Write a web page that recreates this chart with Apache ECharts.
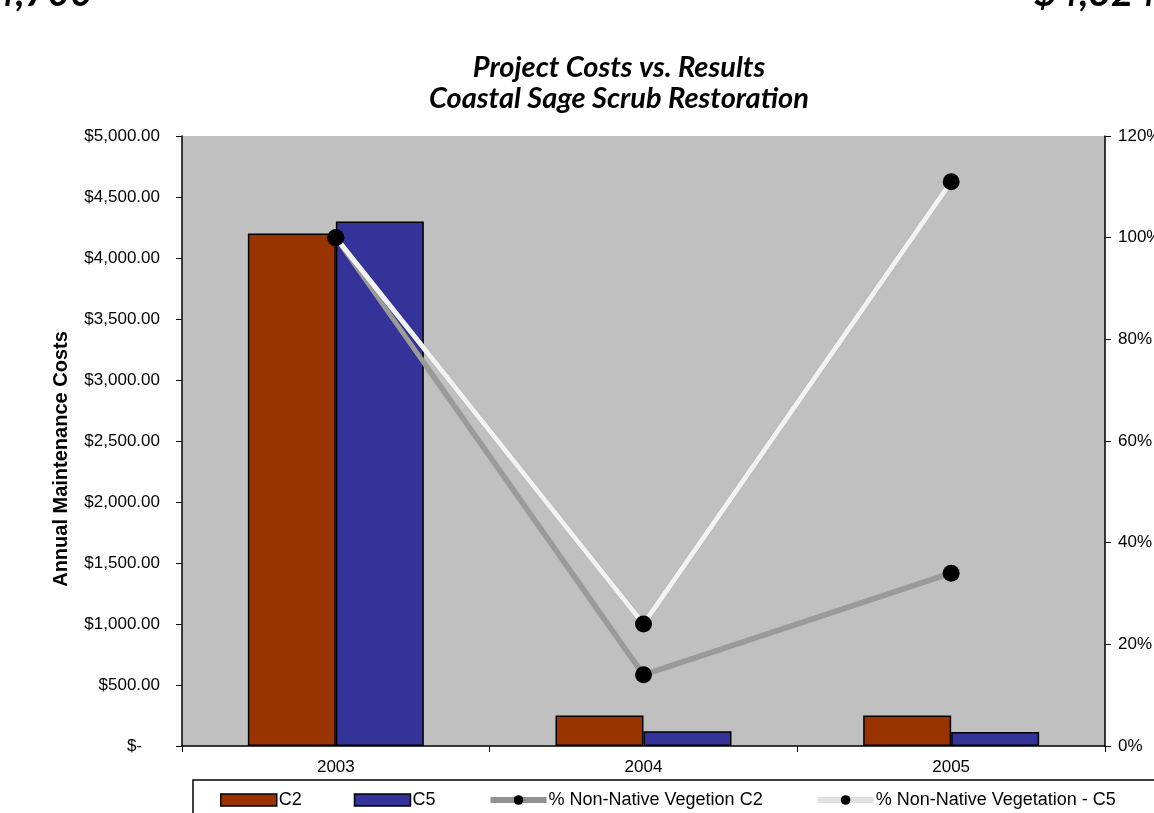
<!DOCTYPE html>
<html>
<head>
<meta charset="utf-8">
<script src="https://cdn.jsdelivr.net/npm/echarts@6/dist/echarts.min.js"></script>
<style>
html,body{margin:0;padding:0;background:#fff;}
#chart{width:1154px;height:813px;}
</style>
</head>
<body>
<div id="chart"></div>
<script>
const categories = ['2003', '2004', '2005'];
const costC2 = [4200, 250, 250];
const costC5 = [4300, 120, 115];
const nonNativeC2 = [1.00, 0.14, 0.34];
const nonNativeC5 = [1.00, 0.24, 1.11];
const leftTicks = { min: 0, max: 5000, interval: 500 };
const rightTicks = { min: 0, max: 1.2, interval: 0.2 };
const titleLines = ['Project Costs vs. Results', 'Coastal Sage Scrub Restoration'];
const clippedTopLeft = '4,700';
const clippedTopRight = '$4,324';
const seriesNames = ['C2', 'C5', '% Non-Native Vegetion C2', '% Non-Native Vegetation - C5'];

const chart = echarts.init(document.getElementById('chart'), null, {renderer: 'canvas'});
const AX = 'Liberation Sans, Arial, sans-serif';
const TF = 'Lato, "Open Sans", sans-serif';

function money(v) {
  if (v === 0) return '{z|$-}';
  return '$' + v.toLocaleString('en-US', {minimumFractionDigits: 2, maximumFractionDigits: 2});
}

const option = {
  backgroundColor: '#ffffff',
  animation: false,
  title: {
    text: titleLines.join('\n'),
    left: 614, textAlign: 'center', top: 47,
    textStyle: {fontFamily: TF, fontStyle: 'italic', fontWeight: 'bold', fontSize: 29, lineHeight: 31, color: '#000'}
  },
  graphic: [
    {type: 'text', left: -7, top: -26, style: {text: clippedTopLeft, font: 'italic bold 39px ' + TF, fill: '#000'}},
    {type: 'text', left: 1034, top: -26, style: {text: clippedTopRight, font: 'italic bold 39px ' + TF, fill: '#000'}}
  ],
  grid: {left: 182, right: 49, top: 136, bottom: 67, show: true, backgroundColor: '#c0c0c0', borderWidth: 0,
    outerBoundsMode: 'none', containLabel: false},
  legend: {
    left: 193, top: 780,
    width: 1100,
    padding: [11, 120, 20, 27],
    itemGap: 52,
    itemWidth: 56, itemHeight: 12,
    backgroundColor: '#fff', borderColor: '#000', borderWidth: 1.5,
    textStyle: {fontFamily: AX, fontSize: 18, color: '#000', padding: [0, 0, 0, -3]},
    data: [
      {name: seriesNames[0], icon: 'rect', itemStyle: {borderColor: '#000', borderWidth: 1.5}},
      {name: seriesNames[1], icon: 'rect', itemStyle: {borderColor: '#000', borderWidth: 1.5}},
      {name: seriesNames[2], lineStyle: {color: '#909090', width: 6}},
      {name: seriesNames[3], lineStyle: {color: '#e0e0e0', width: 6}}
    ]
  },
  xAxis: {
    type: 'category', data: categories,
    axisLine: {lineStyle: {color: '#000', width: 1.5}},
    axisTick: {show: true, length: 6, lineStyle: {color: '#000'}},
    axisLabel: {fontFamily: AX, fontSize: 17, color: '#000', margin: 13},
    splitLine: {show: false}
  },
  yAxis: [
    {
      type: 'value', min: leftTicks.min, max: leftTicks.max, interval: leftTicks.interval,
      name: 'Annual Maintenance Costs', nameLocation: 'middle', nameGap: 111, nameRotate: 90,
      nameTextStyle: {fontFamily: AX, fontSize: 20, fontWeight: 'bold', color: '#000', padding: [0, 36, 0, 0]},
      axisLine: {show: true, lineStyle: {color: '#000', width: 1.5}},
      axisTick: {show: true, length: 6, lineStyle: {color: '#000'}},
      axisLabel: {fontFamily: AX, fontSize: 17, color: '#000', margin: 22, formatter: money,
        rich: {z: {fontFamily: AX, fontSize: 17, color: '#000', padding: [0, 18, 0, 0]}}},
      splitLine: {show: false}
    },
    {
      type: 'value', min: rightTicks.min, max: rightTicks.max, interval: rightTicks.interval,
      position: 'right',
      axisLine: {show: true, lineStyle: {color: '#000', width: 1.5}},
      axisTick: {show: true, length: 6, lineStyle: {color: '#000'}},
      axisLabel: {fontFamily: AX, fontSize: 17, color: '#000', margin: 13,
        formatter: v => Math.round(v * 100) + '%'},
      splitLine: {show: false}
    }
  ],
  series: [
    {name: seriesNames[0], type: 'bar', data: costC2, barWidth: '28.6%', barGap: '0%',
      itemStyle: {color: '#993300', borderColor: '#000', borderWidth: 1.5}},
    {name: seriesNames[1], type: 'bar', data: costC5, barWidth: '28.6%', barGap: '0%',
      itemStyle: {color: '#333399', borderColor: '#000', borderWidth: 1.5}},
    {name: seriesNames[2], type: 'line', yAxisIndex: 1, data: nonNativeC2,
      symbol: 'circle', symbolSize: 17,
      lineStyle: {color: '#9a9a9a', width: 5, shadowColor: 'rgba(0,0,0,0.3)', shadowBlur: 1},
      itemStyle: {color: '#000'}, z: 5},
    {name: seriesNames[3], type: 'line', yAxisIndex: 1, data: nonNativeC5,
      symbol: 'circle', symbolSize: 17,
      lineStyle: {color: '#f2f2f2', width: 5, shadowColor: 'rgba(0,0,0,0.3)', shadowBlur: 1},
      itemStyle: {color: '#000'}, z: 6}
  ]
};
chart.setOption(option);
</script>
</body>
</html>
